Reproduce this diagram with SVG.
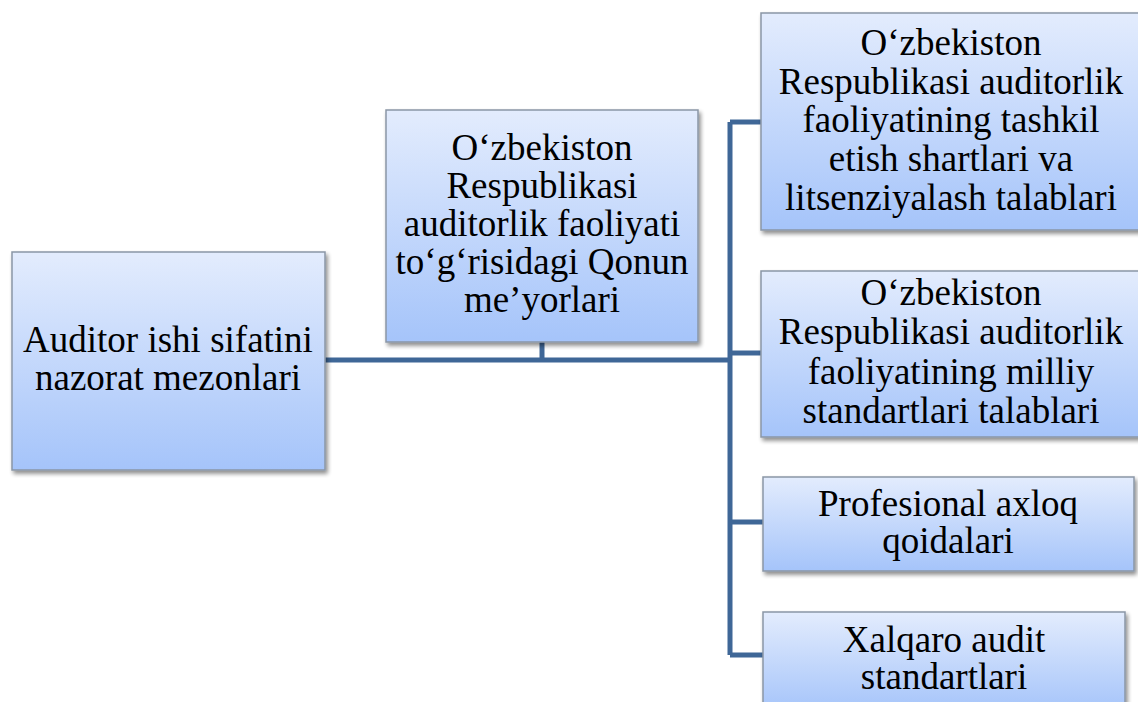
<svg xmlns="http://www.w3.org/2000/svg" width="1138" height="702" viewBox="0 0 1138 702">
  <defs>
    <linearGradient id="fill" x1="0" y1="0" x2="0" y2="1">
      <stop offset="0" stop-color="#e3ecfd"/>
      <stop offset="1" stop-color="#a5c4fa"/>
    </linearGradient>
    <filter id="shadow" x="-10%" y="-10%" width="120%" height="130%">
      <feGaussianBlur in="SourceAlpha" stdDeviation="2"/>
      <feOffset dx="2" dy="3" result="b"/>
      <feComponentTransfer><feFuncA type="linear" slope="0.45"/></feComponentTransfer>
      <feMerge><feMergeNode/><feMergeNode in="SourceGraphic"/></feMerge>
    </filter>
  </defs>
  <style>
    .box { fill: url(#fill); stroke: #8a96a6; stroke-width: 1.5; filter: url(#shadow); }
    .lbl { font-family: "Liberation Serif", "Times New Roman", serif; font-size: 37px; fill: #000; text-anchor: middle; }
    .conn { fill: none; stroke: #3f6797; stroke-width: 5; stroke-linecap: butt; stroke-linejoin: miter; }
  </style>
  <rect width="1138" height="702" fill="#ffffff"/>

  <g id="connectors">
    <path class="conn" d="M325 360 H730"/>
    <path class="conn" d="M542 342 V360"/>
    <path class="conn" d="M730 122 V655"/>
    <path class="conn" d="M730 122 H762"/>
    <path class="conn" d="M730 353 H762"/>
    <path class="conn" d="M730 522 H763"/>
    <path class="conn" d="M730 655 H763"/>
  </g>

  <g id="node-root">
    <rect class="box" x="12" y="252" width="313" height="218"/>
    <text class="lbl" x="168" y="352">Auditor ishi sifatini</text>
    <text class="lbl" x="168" y="390">nazorat mezonlari</text>
  </g>

  <g id="node-law">
    <rect class="box" x="386" y="110" width="312" height="232"/>
    <text class="lbl" x="542" y="160">O‘zbekiston</text>
    <text class="lbl" x="542" y="198">Respublikasi</text>
    <text class="lbl" x="542" y="236">auditorlik faoliyati</text>
    <text class="lbl" x="542" y="274">to‘g‘risidagi Qonun</text>
    <text class="lbl" x="542" y="312">me’yorlari</text>
  </g>

  <g id="node-license">
    <rect class="box" x="761" y="13" width="380" height="217"/>
    <text class="lbl" x="951" y="55">O‘zbekiston</text>
    <text class="lbl" x="951" y="93.5">Respublikasi auditorlik</text>
    <text class="lbl" x="951" y="132">faoliyatining tashkil</text>
    <text class="lbl" x="951" y="171">etish shartlari va</text>
    <text class="lbl" x="951" y="209.5">litsenziyalash talablari</text>
  </g>

  <g id="node-standards">
    <rect class="box" x="761" y="271" width="380" height="166"/>
    <text class="lbl" x="951" y="305">O‘zbekiston</text>
    <text class="lbl" x="951" y="344">Respublikasi auditorlik</text>
    <text class="lbl" x="951" y="384">faoliyatining milliy</text>
    <text class="lbl" x="951" y="423">standartlari talablari</text>
  </g>

  <g id="node-ethics">
    <rect class="box" x="763" y="477" width="371" height="94"/>
    <text class="lbl" x="948" y="516">Profesional axloq</text>
    <text class="lbl" x="948" y="553">qoidalari</text>
  </g>

  <g id="node-isa">
    <rect class="box" x="763" y="612" width="362" height="100"/>
    <text class="lbl" x="944" y="652">Xalqaro audit</text>
    <text class="lbl" x="944" y="689">standartlari</text>
  </g>
</svg>
